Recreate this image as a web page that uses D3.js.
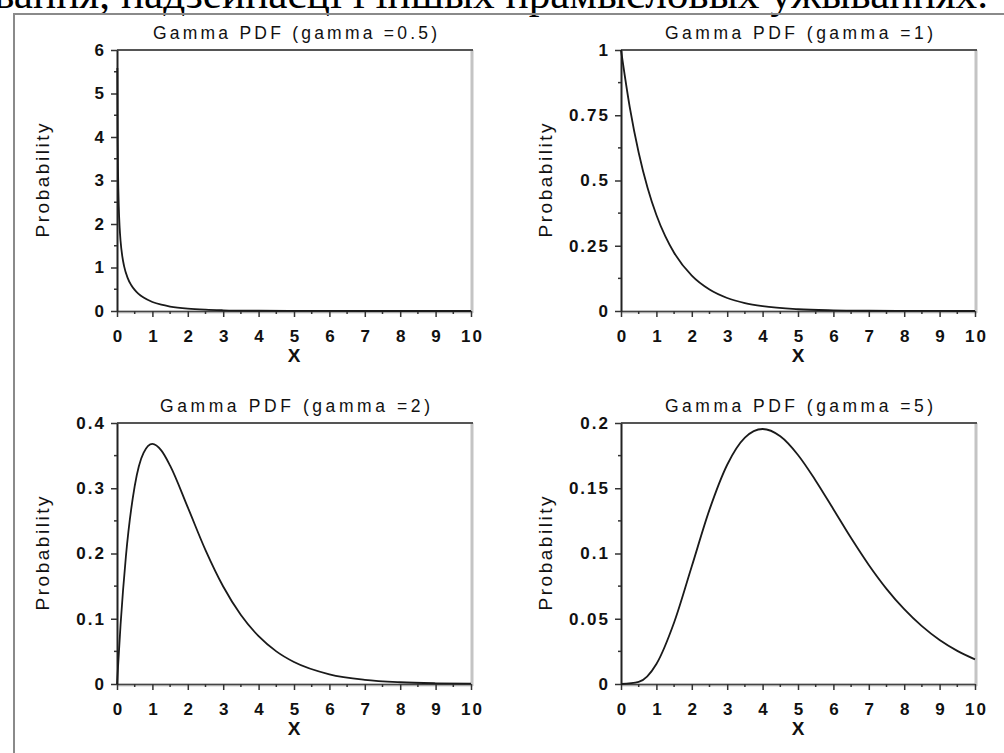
<!DOCTYPE html>
<html>
<head>
<meta charset="utf-8">
<script src="https://cdn.jsdelivr.net/npm/d3@7"></script>
<style>
	body { margin: 0; background: #fff; }
	svg { display: block; }
	.tick_label { font-family: "Liberation Sans", Arial, sans-serif; font-size: 17px; font-weight: bold; fill: #111; letter-spacing: 2px; }
	.title { font-family: "Liberation Sans", Arial, sans-serif; font-size: 17.5px; fill: #111; }
	.axis_label { font-family: "Liberation Sans", Arial, sans-serif; font-size: 19px; fill: #111; }
</style>
</head>
<body>
<div id="chart_area"></div>
<script>

// x values shared by the panels (ticks)
var x_ticks = [0, 1, 2, 3, 4, 5, 6, 7, 8, 9, 10];

// gamma = 0.5 (steep near 0)
var g05_x = [0.01, 0.02, 0.03, 0.05, 0.075, 0.1, 0.15, 0.2, 0.3, 0.4, 0.5, 0.6, 0.75, 1, 1.25, 1.5, 2, 2.5, 3, 4, 5, 6, 7, 8, 10];
var g05_y = [5.586, 3.910, 3.161, 2.400, 1.911, 1.614, 1.254, 1.033, 0.763, 0.598, 0.484, 0.400, 0.308, 0.2076, 0.1446, 0.1028, 0.0540, 0.0293, 0.0162, 0.0052, 0.0017, 0.0006, 0.0002, 0.0001, 0.0];

// gamma = 1
var g1_x = [0, 0.25, 0.5, 0.75, 1, 1.25, 1.5, 2, 2.5, 3, 3.5, 4, 5, 6, 7, 8, 9, 10];
var g1_y = [1, 0.7788, 0.6065, 0.4724, 0.3679, 0.2865, 0.2231, 0.1353, 0.0821, 0.0498, 0.0302, 0.0183, 0.0067, 0.0025, 0.0009, 0.0003, 0.0001, 0.0];

// gamma = 2
var g2_x = [0, 0.1, 0.25, 0.5, 0.75, 1, 1.25, 1.5, 2, 2.5, 3, 3.5, 4, 4.5, 5, 6, 7, 8, 9, 10];
var g2_y = [0, 0.0905, 0.1947, 0.3033, 0.3543, 0.3679, 0.3581, 0.3347, 0.2707, 0.2052, 0.1494, 0.1057, 0.0733, 0.0500, 0.0337, 0.0149, 0.0064, 0.0027, 0.0011, 0.0005];

// gamma = 5
var g5_x = [0, 0.5, 1, 1.5, 2, 2.5, 3, 3.5, 4, 4.5, 5, 5.5, 6, 6.5, 7, 7.5, 8, 8.5, 9, 9.5, 10];
var g5_y = [0, 0.0016, 0.0153, 0.0471, 0.0902, 0.1336, 0.1680, 0.1888, 0.1954, 0.1898, 0.1755, 0.1558, 0.1339, 0.1118, 0.0912, 0.0729, 0.0573, 0.0443, 0.0337, 0.0254, 0.0189];

// y ticks per panel
var g05_yticks = [0, 1, 2, 3, 4, 5, 6];
var g1_yticks = [0, 0.25, 0.5, 0.75, 1];
var g2_yticks = [0, 0.1, 0.2, 0.3, 0.4];
var g5_yticks = [0, 0.05, 0.1, 0.15, 0.2];

var titles = ["Gamma PDF (gamma =0.5)", "Gamma PDF (gamma =1)", "Gamma PDF (gamma =2)", "Gamma PDF (gamma =5)"];

// Create the SVG frame.
var frame_width = 1004;
var frame_height = 753;
var frame = d3.select("#chart_area").append("svg")
	.attr("width", frame_width)
	.attr("height", frame_height);

// cut off line of text from the page above
frame.append("text")
	.attr("x", -6)
	.attr("y", 8)
	.attr("font-family", "'Liberation Serif', 'Times New Roman', serif")
	.attr("font-size", 42)
	.attr("fill", "#000")
	.attr("textLength", 994)
	.attr("lengthAdjust", "spacingAndGlyphs")
	.text("вання, надзейнасці і іншых прамысловых ужываннях.");

// outer frame (top and left edges)
frame.append("path")
	.attr("d", "M14,753 L14,14 L1004,14")
	.attr("fill", "none")
	.attr("stroke", "#8a8a8a")
	.attr("stroke-width", 2);

var panels = [
	{ left: 117, top: 50, xs: g05_x, ys: g05_y, yticks: g05_yticks, ymax: 6, minor: 0.5, title: titles[0], title_w: 284, ylab_x: 42 },
	{ left: 621, top: 50, xs: g1_x, ys: g1_y, yticks: g1_yticks, ymax: 1, minor: 0.125, title: titles[1], title_w: 268, ylab_x: 545 },
	{ left: 117, top: 423, xs: g2_x, ys: g2_y, yticks: g2_yticks, ymax: 0.4, minor: 0.05, title: titles[2], title_w: 270, ylab_x: 42 },
	{ left: 621, top: 423, xs: g5_x, ys: g5_y, yticks: g5_yticks, ymax: 0.2, minor: 0.025, title: titles[3], title_w: 268, ylab_x: 545 }
];

var plot_w = 354;
var plot_h = 261;

panels.forEach(draw_panel);

function draw_panel(p) {
	var canvas = frame.append("g")
		.attr("transform", "translate(" + p.left + "," + p.top + ")");

	var xScale = d3.scaleLinear().domain([0, 10]).range([0, plot_w]);
	var yScale = d3.scaleLinear().domain([0, p.ymax]).range([plot_h, 0]);

	// right border (light grey) and top border
	canvas.append("line")
		.attr("x1", plot_w + 1).attr("x2", plot_w + 1)
		.attr("y1", 0).attr("y2", plot_h + 2)
		.attr("stroke", "#c4c4c4").attr("stroke-width", 3);
	canvas.append("line")
		.attr("x1", 0).attr("x2", plot_w + 2)
		.attr("y1", 0).attr("y2", 0)
		.attr("stroke", "#555").attr("stroke-width", 2);

	// bottom axis: grey band + dark line
	canvas.append("line")
		.attr("x1", 0).attr("x2", plot_w + 2)
		.attr("y1", plot_h + 1).attr("y2", plot_h + 1)
		.attr("stroke", "#cfcfcf").attr("stroke-width", 3);

	var xAxis = d3.axisBottom(xScale).tickValues(x_ticks).tickSize(6).tickSizeOuter(0).tickFormat(d3.format("d"));
	var gx = canvas.append("g")
		.attr("transform", "translate(0," + plot_h + ")")
		.call(xAxis);
	gx.select(".domain").attr("stroke", "#444").attr("stroke-width", 1.5);
	gx.selectAll(".tick line").attr("stroke", "#333").attr("stroke-width", 1.5);
	gx.selectAll(".tick text").attr("class", "tick_label").attr("font-family", null).attr("font-size", null)
		.attr("x", 1).attr("y", 19).attr("dy", "0.71em");

	// minor x ticks at the halves
	var x_minor = d3.range(0.5, 10, 1);
	canvas.selectAll(".xminor").data(x_minor).enter().append("line")
		.attr("x1", function(d) { return xScale(d); })
		.attr("x2", function(d) { return xScale(d); })
		.attr("y1", plot_h).attr("y2", plot_h + 3)
		.attr("stroke", "#333").attr("stroke-width", 1.5);

	// y axis
	var yAxis = d3.axisLeft(yScale).tickValues(p.yticks).tickSize(6).tickSizeOuter(0)
		.tickFormat(function(d) { return String(+d.toFixed(3)); });
	var gy = canvas.append("g").call(yAxis);
	gy.select(".domain").attr("stroke", "#222").attr("stroke-width", 2);
	gy.selectAll(".tick line").attr("stroke", "#333").attr("stroke-width", 1.5);
	gy.selectAll(".tick text").attr("class", "tick_label").attr("font-family", null).attr("font-size", null)
		.attr("x", -11);

	var y_minor = d3.range(p.minor, p.ymax, p.minor * 2);
	canvas.selectAll(".yminor").data(y_minor).enter().append("line")
		.attr("x1", -3).attr("x2", 0)
		.attr("y1", function(d) { return yScale(d); })
		.attr("y2", function(d) { return yScale(d); })
		.attr("stroke", "#333").attr("stroke-width", 1.5);

	// curve
	var pts = p.xs.map(function(x, i) { return [x, p.ys[i]]; });
	var line = d3.line()
		.x(function(d) { return xScale(d[0]); })
		.y(function(d) { return yScale(d[1]); })
		.curve(d3.curveMonotoneX);
	canvas.append("path")
		.datum(pts)
		.attr("d", line)
		.attr("fill", "none")
		.attr("stroke", "#1a1a1a")
		.attr("stroke-width", 1.8);

	// title
	canvas.append("text")
		.attr("class", "title")
		.attr("x", plot_w / 2 - p.title_w / 2 + 1)
		.attr("y", -11)
		.attr("textLength", p.title_w)
		.attr("lengthAdjust", "spacing")
		.text(p.title);

	// x label
	canvas.append("text")
		.attr("class", "axis_label")
		.attr("font-weight", "bold")
		.attr("x", plot_w / 2)
		.attr("y", plot_h + 51)
		.attr("text-anchor", "middle")
		.text("X");

	// y label
	canvas.append("text")
		.attr("class", "axis_label")
		.attr("transform", "translate(" + (p.ylab_x - p.left + 7) + "," + (plot_h / 2 - 57) + ") rotate(-90)")
		.attr("x", -114)
		.attr("textLength", 114)
		.attr("lengthAdjust", "spacing")
		.text("Probability");
}

</script>
</body>
</html>
